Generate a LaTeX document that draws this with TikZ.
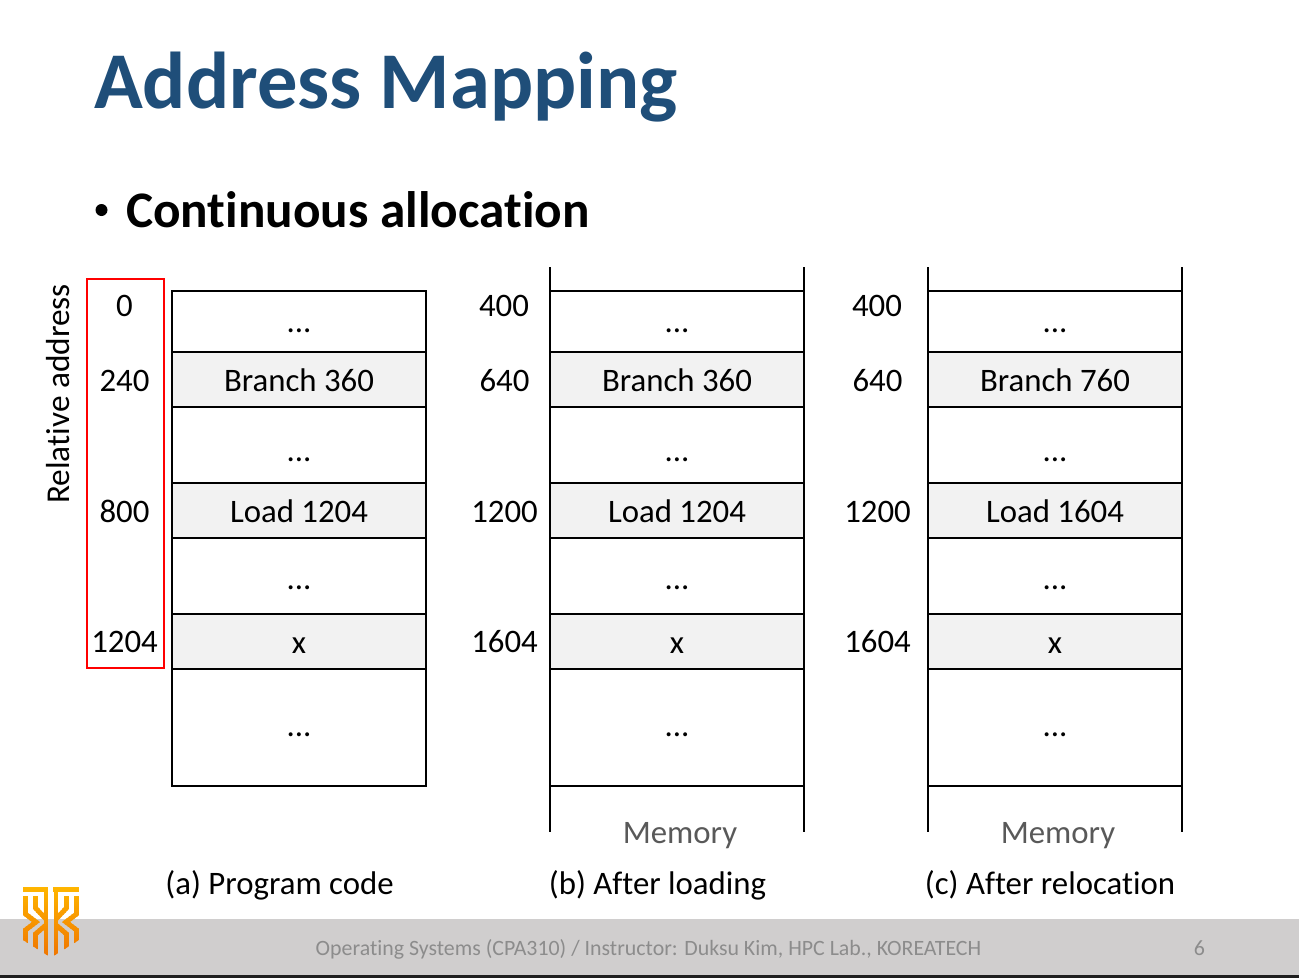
\documentclass[tikz,border=0pt]{standalone}
\usepackage{fontspec}
\setmainfont{Carlito}[Ligatures=CommonOff]
\definecolor{titleblue}{HTML}{1F4E79}
\definecolor{rowgray}{HTML}{F2F2F2}
\definecolor{barray}{HTML}{D0CECE}
\definecolor{memgray}{HTML}{595959}
\definecolor{footgray}{HTML}{8C8C8C}
\definecolor{logotop}{HTML}{FFB600}
\definecolor{logobot}{HTML}{EF7400}
\tikzset{
  txt/.style={inner sep=0pt,outer sep=0pt,anchor=base},
  body/.style={txt,font=\fontsize{24.6}{28}\selectfont,text=black},
  addr/.style={body},
  memlabel/.style={txt,font=\fontsize{24.6}{28}\selectfont,text=memgray},
  footer/.style={txt,font=\fontsize{16.4}{20}\selectfont,text=footgray},
  cell/.style={draw=black,line width=1.1pt,fill=white},
  shaded/.style={draw=black,line width=1.1pt,fill=rowgray},
  rail/.style={draw=black,line width=1.1pt},
  logostroke/.style={line width=3.6pt,line cap=butt,line join=miter},
}
% One memory column: rows, open rails and cell labels
\newcommand{\memcolumn}[5]{%
  \begin{scope}[xshift=#1*0.75pt]
    \path[cell] (0,291) rectangle (254,352);
    \path[shaded] (0,352) rectangle (254,407);
    \path[cell] (0,407) rectangle (254,483);
    \path[shaded] (0,483) rectangle (254,538);
    \path[cell] (0,538) rectangle (254,614);
    \path[shaded] (0,614) rectangle (254,669);
    \path[cell] (0,669) rectangle (254,786);
    \node[body] (#2dotsa) at (127,332) {...};
    \node[body] (#2br) at (127,391) {#3};
    \node[body] (#2dotsb) at (127,461) {...};
    \node[body] (#2ld) at (127,522) {#4};
    \node[body] (#2dotsc) at (127,589) {...};
    \node[body] (#2x) at (127,653) {x};
    \node[body] (#2dotsd) at (127,736) {...};
    #5
  \end{scope}}
% Logo strokes, left half and its mirror image
\newcommand{\logopaths}{%
  \draw[logostroke] (23,889.5) -- (48,889.5);
  \draw[logostroke] (46,887) -- (46,958);
  \draw[logostroke] (25.5,896) -- (25.5,914) -- (36,922) -- (25.5,930) -- (25.5,946);
  \draw[logostroke] (35.5,896) -- (35.5,908) -- (46,919);
  \draw[logostroke] (46,925) -- (35.5,934) -- (35.5,954);
  \draw[logostroke] (53,889.5) -- (79,889.5);
  \draw[logostroke] (56,887) -- (56,958);
  \draw[logostroke] (76.5,896) -- (76.5,914) -- (66,922) -- (76.5,930) -- (76.5,946);
  \draw[logostroke] (66.5,896) -- (66.5,908) -- (56,919);
  \draw[logostroke] (56,925) -- (66.5,934) -- (66.5,954);
}
\begin{document}
\begin{tikzpicture}[x=0.75pt,y=-0.75pt]
  \useasboundingbox (0,0) rectangle (1299,978);
  \fill[white] (0,0) rectangle (1299,978);

  % Footer band
  \fill[barray] (0,919) rectangle (1299,975);
  \fill[black!88] (0,975) rectangle (1299,978);

  % Headings
  \node[txt,anchor=base west,text=titleblue,font=\fontsize{60.4}{66}\selectfont\bfseries] (title) at (94,108.5) {Address Mapping};
  \fill[black] (101.5,210) circle[radius=6];
  \node[txt,anchor=base west,text=black,font=\fontsize{38.45}{42}\selectfont\bfseries] (sub) at (126,227) {Continuous allocation};

  % Program code column with its relative addresses
  \memcolumn{172}{a}{Branch 360}{Load 1204}{}
  \node[draw=red,line width=1.5pt,inner sep=0pt,minimum width=77*0.75pt,minimum height=389*0.75pt,anchor=north west] (relbox) at (85.5,278) {};
  \node[txt,rotate=90,font=\fontsize{25}{28}\selectfont] (rel) at (69,394) {Relative address};
  \node[addr] (ra) at (124.5,316) {0};
  \node[addr] (rb) at (124.5,391) {240};
  \node[addr] (rc) at (124.5,522) {800};
  \node[addr] (rd) at (124.5,652) {1204};
  \node[body] (capa) at (279.5,894.5) {(a) Program code};

  % Memory after loading
  \memcolumn{550}{b}{Branch 360}{Load 1204}{%
    \draw[rail] (0,267) -- (0,291) (254,267) -- (254,291);
    \draw[rail] (0,786) -- (0,832) (254,786) -- (254,832);
    \node[memlabel] (bmem) at (130,843) {Memory};}
  \node[addr] (ba) at (504,316) {400};
  \node[addr] (bb) at (504.5,391) {640};
  \node[addr] (bc) at (504.5,522) {1200};
  \node[addr] (bd) at (504.5,652) {1604};
  \node[body] (capb) at (657.5,894.5) {(b) After loading};

  % Memory after relocation
  \memcolumn{928}{c}{Branch 760}{Load 1604}{%
    \draw[rail] (0,267) -- (0,291) (254,267) -- (254,291);
    \draw[rail] (0,786) -- (0,832) (254,786) -- (254,832);
    \node[memlabel] (cmem) at (130,843) {Memory};}
  \node[addr] (ca) at (877,316) {400};
  \node[addr] (cb) at (877.5,391) {640};
  \node[addr] (cc) at (877.5,522) {1200};
  \node[addr] (cd) at (877.5,652) {1604};
  \node[body] (capc) at (1050,894.5) {(c) After relocation};

  % Footer text
  \node[footer] (foot) at (648.5,955) {Operating Systems (CPA310) / Instructor: Duksu Kim, HPC Lab., KOREATECH};
  \node[footer] (page) at (1199.5,955) {6};

  % Logo with a vertical colour ramp, painted band by band inside a shield outline
  \begin{scope}
    \clip (23,887) -- (79,887) -- (79,940) -- (51,957.5) -- (23,940) -- cycle;
    \foreach \b in {0,...,35}{
      \pgfmathsetmacro{\mixv}{100-\b*100/35}
      \begin{scope}
        \clip (20,{886+\b*2}) rectangle (82,{886+\b*2+2.3});
        \begingroup
        \colorlet{rampc}{logotop!\mixv!logobot}
        \tikzset{every path/.append style={color=rampc}}
        \logopaths
        \endgroup
      \end{scope}
    }
  \end{scope}
\end{tikzpicture}
\end{document}
